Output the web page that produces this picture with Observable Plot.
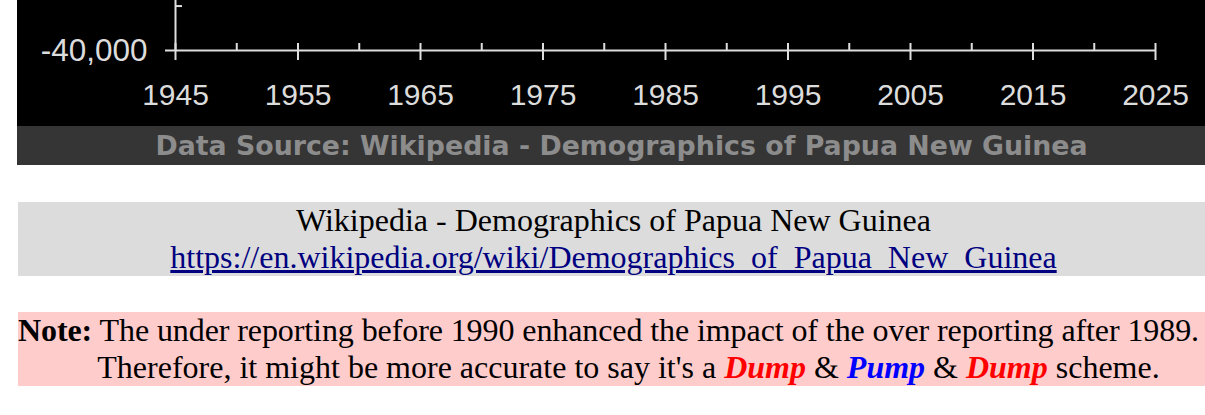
<!DOCTYPE html>
<html>
<head>
<meta charset="utf-8">
<script src="https://cdn.jsdelivr.net/npm/d3@7"></script>
<script src="https://cdn.jsdelivr.net/npm/@observablehq/plot@0.6"></script>
<style>
  html, body { margin: 0; padding: 0; overflow: hidden; background: #fff; width: 1205px; height: 415px; }
  #chartbox { position: absolute; left: 17px; top: 0; width: 1209px; background: #000; }
  #chartbox svg { display: block; }
  #banner { height: 39px; line-height: 39px; background: #353535; color: #8c8c8c;
            font-family: "DejaVu Sans", sans-serif; font-weight: bold; font-size: 26.8px;
            text-align: center; white-space: nowrap; }
  .box { position: absolute; left: 18px; width: 1191px; height: 74px;
         font-family: "Liberation Serif", "Times New Roman", serif; font-size: 32px;
         line-height: 37px; text-align: center; color: #000; white-space: nowrap; }
  #src { top: 202px; background: #dcdcdc; }
  #src a { color: #000080; }
  #note { top: 312px; background: #ffcccc; }
  #note .l1 { margin-right: 10px; letter-spacing: -0.09px; }
  #note .l2 { padding-left: 30px; }
  .red { color: #ff0000; font-weight: bold; font-style: italic; }
  .blue { color: #0000ff; font-weight: bold; font-style: italic; }
</style>
</head>
<body>
<div id="chartbox">
  <div id="plot"></div>
  <div id="banner"></div>
</div>
<div id="src" class="box"></div>
<div id="note" class="box"></div>
<script>
// ---- data (only the bottom of the chart is visible in the reference) ----
const majorYears = [1945, 1955, 1965, 1975, 1985, 1995, 2005, 2015, 2025];
const minorYears = [1950, 1960, 1970, 1980, 1990, 2000, 2010, 2020];
const yMajorTicks = [-40000];
const yMinorTicks = [-30000];
const xDomain = [1945, 2025];
const yDomain = [-40000, -28750];
const bannerText = "Data Source: Wikipedia - Demographics of Papua New Guinea";
const sourceTitle = "Wikipedia - Demographics of Papua New Guinea";
const sourceUrl = "https://en.wikipedia.org/wiki/Demographics_of_Papua_New_Guinea";

const axisColor = "#dedede";

const chart = Plot.plot({
  width: 1209,
  height: 126,
  marginTop: 0,
  marginBottom: 76,
  marginLeft: 158,
  marginRight: 71,
  style: {
    background: "#000",
    color: "#dcdcdc",
    fontFamily: "'Liberation Sans', Arial, sans-serif",
    fontSize: "30px",
    overflow: "visible"
  },
  x: { domain: xDomain },
  y: { domain: yDomain },
  marks: [
    Plot.ruleY(yMajorTicks, { stroke: axisColor, strokeWidth: 2 }),
    Plot.ruleX([xDomain[0]], { stroke: axisColor, strokeWidth: 2 }),
    Plot.axisX({ ticks: majorYears, tickSize: 10, tickPadding: 23, tickFormat: d => String(d),
                 stroke: axisColor, strokeWidth: 2 }),
    Plot.axisX({ ticks: majorYears, tickSize: -7, text: null, stroke: axisColor, strokeWidth: 2 }),
    Plot.axisX({ ticks: minorYears, tickSize: -7, text: null, stroke: axisColor, strokeWidth: 2 }),
    Plot.axisY({ ticks: yMajorTicks, tickSize: 10, tickPadding: 18,
                 tickFormat: d => d.toLocaleString("en-US"), fontSize: 31.5,
                 stroke: axisColor, strokeWidth: 2 }),
    Plot.axisY({ ticks: yMinorTicks, tickSize: -7, text: null, stroke: axisColor, strokeWidth: 2 })
  ]
});
document.getElementById("plot").appendChild(chart);
document.getElementById("banner").textContent = bannerText;

const src = document.getElementById("src");
src.appendChild(document.createTextNode(sourceTitle));
src.appendChild(document.createElement("br"));
const a = document.createElement("a");
a.href = sourceUrl;
a.textContent = sourceUrl;
src.appendChild(a);

document.getElementById("note").innerHTML =
  '<div class="l1"><b>Note:</b> The under reporting before 1990 enhanced the impact of the over reporting after 1989.</div>' +
  '<div class="l2">Therefore, it might be more accurate to say it\'s a <span class="red">Dump</span> &amp; <span class="blue">Pump</span> &amp; <span class="red">Dump</span> scheme.</div>';
</script>
</body>
</html>
